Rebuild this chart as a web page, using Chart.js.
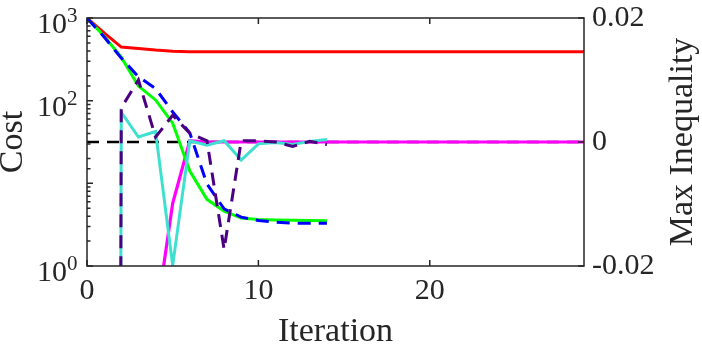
<!DOCTYPE html>
<html>
<head>
<meta charset="utf-8">
<script src="https://cdn.jsdelivr.net/npm/chart.js@4.4.1/dist/chart.umd.min.js"></script>
<style>
  html, body { margin: 0; padding: 0; background: #fff; }
  canvas { display: block; }
</style>
</head>
<body>
<canvas id="myChart" width="702" height="344"></canvas>
<script>
'use strict';
var iterations = [0, 1, 2, 3, 4, 5, 6, 7, 8, 9, 10, 11, 12, 13, 14, 15, 16, 17, 18, 19,
  20, 21, 22, 23, 24, 25, 26, 27, 28, 29];

// cost (left, log axis)
var costRed = [1000, 660, 445, 427, 409, 396, 391, 390, 390, 390, 390, 390, 390, 390, 390,
  390, 390, 390, 390, 390, 390, 390, 390, 390, 390, 390, 390, 390, 390, 390];
var costGreen = [1000, 600, 336, 150, 102, 53.5, 14.1, 6.4, 4.6, 3.8, 3.65, 3.6, 3.57, 3.55, 3.53];
var costBlue = [1000, 590, 327, 195, 140, 73, 40.6, 9.8, 4.9, 3.9, 3.55, 3.4, 3.3, 3.3, 3.3];

// max inequality (right axis)
var ineqMagenta = [-1, -1, -1, -1, -0.029, -0.0099, 0.0002, 0, 0, 0, 0, 0, 0, 0, 0,
  0, 0, 0, 0, 0, 0, 0, 0, 0, 0, 0, 0, 0, 0, 0];
var ineqIndigo = [-1, -1, 0.0055, 0.0100, 0.0008, 0.0043, 0.0014, 0.0002, -0.0173, 0.0002,
  0.0002, 0, -0.0007, 0.0001, -0.0004];
var ineqCyan = [-1, -1, 0.0048, 0.0008, 0.0017, -0.0199, 0.0002, -0.0005, 0.0002, -0.0029,
  -0.0003, -0.0001, -0.0004, 0.0001, 0.0004];
var zeroIters = [0, 29];
var zeroLine = [0, 0];

var iterTicks = [0, 10, 20];
var costLabelTicks = [1, 100, 1000];
var costExponents = ['0', '2', '3'];
var ineqTicks = [-0.02, 0, 0.02];
var ineqTickLabels = ['-0.02', '0', '0.02'];

var serif = '"Liberation Serif", "Times New Roman", serif';
var textColor = '#262626';

function points(xs, ys) {
  var out = [];
  for (var i = 0; i < ys.length; i++) {
    out.push({ x: xs[i], y: ys[i] });
  }
  return out;
}

function line(label, xs, ys, color, axis, dash, width) {
  return {
    label: label,
    data: points(xs, ys),
    yAxisID: axis,
    borderColor: color,
    backgroundColor: color,
    borderWidth: width || 3,
    borderDash: dash || [],
    pointRadius: 0,
    tension: 0,
    fill: false
  };
}

// inward ticks, box, superscript labels and right title
var axesBox = {
  id: 'axesBox',
  afterDatasetsDraw: function(chart) {
    var ctx = chart.ctx;
    var a = chart.chartArea;
    var sx = chart.scales.x, sy = chart.scales.y, sy1 = chart.scales.y1;
    ctx.save();
    ctx.strokeStyle = textColor;
    ctx.lineWidth = 1.5;
    ctx.beginPath();
    sx.ticks.forEach(function(t) {
      var px = sx.getPixelForValue(t.value);
      ctx.moveTo(px, a.bottom); ctx.lineTo(px, a.bottom - 6);
      ctx.moveTo(px, a.top); ctx.lineTo(px, a.top + 6);
    });
    sy.ticks.forEach(function(t) {
      var py = sy.getPixelForValue(t.value);
      var lg = Math.log10(t.value);
      var len = Math.abs(lg - Math.round(lg)) < 1e-9 ? 6 : 3.5;
      ctx.moveTo(a.left, py); ctx.lineTo(a.left + len, py);
    });
    sy1.ticks.forEach(function(t) {
      var py = sy1.getPixelForValue(t.value);
      ctx.moveTo(a.right, py); ctx.lineTo(a.right - 6, py);
    });
    ctx.stroke();
    ctx.strokeRect(a.left, a.top, a.right - a.left, a.bottom - a.top);

    ctx.fillStyle = textColor;
    ctx.textBaseline = 'alphabetic';
    for (var i = 0; i < costLabelTicks.length; i++) {
      var py = sy.getPixelForValue(costLabelTicks[i]);
      ctx.font = '30px ' + serif;
      ctx.textAlign = 'right';
      ctx.fillText('10', a.left - 20, py + 15);
      ctx.font = '21px ' + serif;
      ctx.textAlign = 'left';
      ctx.fillText(costExponents[i], a.left - 20, py + 4);
    }

    ctx.translate(chart.width - 18.5, (a.top + a.bottom) / 2);
    ctx.rotate(-Math.PI / 2);
    ctx.font = '34px ' + serif;
    ctx.textAlign = 'center';
    ctx.textBaseline = 'middle';
    ctx.fillText('Max Inequality', 0, 0);
    ctx.restore();
  }
};

var ctx = document.getElementById('myChart').getContext('2d');
var costChart = new Chart(ctx, {
  type: 'line',
  data: {
    datasets: [
      line('indigo', iterations, ineqIndigo, '#4b0082', 'y1', [13, 8]),
      line('blue', iterations, costBlue, '#0000ff', 'y', [13, 8]),
      line('cyan', iterations, ineqCyan, '#40e0d0', 'y1'),
      line('green', iterations, costGreen, '#00ff00', 'y'),
      line('magenta', iterations, ineqMagenta, '#ff00ff', 'y1', [], 3.2),
      line('red', iterations, costRed, '#ff0000', 'y'),
      line('zero', zeroIters, zeroLine, '#000000', 'y1', [12, 8], 2.4)
    ]
  },
  options: {
    responsive: false,
    animation: false,
    devicePixelRatio: 1,
    layout: { padding: { top: 18, right: 0, bottom: 0, left: 0 } },
    plugins: { legend: { display: false }, tooltip: { enabled: false } },
    scales: {
      x: {
        type: 'linear',
        position: 'bottom',
        min: 0,
        max: 29,
        afterBuildTicks: function(s) {
          s.ticks = iterTicks.map(function(v) { return { value: v }; });
        },
        afterFit: function(s) { s.height = 78; s.paddingLeft = 0; s.paddingRight = 0; },
        grid: { display: false, drawTicks: false },
        border: { display: false },
        ticks: { font: { family: serif, size: 30, lineHeight: 1.2 }, color: textColor, padding: 7, maxRotation: 0 },
        title: {
          display: true, text: 'Iteration', color: textColor,
          font: { family: serif, size: 34, lineHeight: 1 },
          padding: { top: 0, bottom: -5 }
        }
      },
      y: {
        type: 'logarithmic',
        position: 'left',
        min: 1,
        max: 1000,
        afterFit: function(s) { s.width = 87; s.paddingTop = 0; s.paddingBottom = 0; },
        grid: { display: false, drawTicks: false },
        border: { display: false },
        ticks: { display: false },
        title: {
          display: true, text: 'Cost', color: textColor,
          font: { family: serif, size: 34, lineHeight: 1 },
          padding: { top: -3.5, bottom: 0 }
        }
      },
      y1: {
        type: 'linear',
        position: 'right',
        min: -0.02,
        max: 0.02,
        afterBuildTicks: function(s) {
          s.ticks = ineqTicks.map(function(v) { return { value: v }; });
        },
        afterFit: function(s) { s.width = 118; s.paddingTop = 0; s.paddingBottom = 0; },
        grid: { display: false, drawTicks: false },
        border: { display: false },
        ticks: {
          font: { family: serif, size: 30, lineHeight: 1.2 }, color: textColor, padding: 8,
          callback: function(v, i) { return ineqTickLabels[i]; }
        }
      }
    }
  },
  plugins: [axesBox]
});
</script>
</body>
</html>
